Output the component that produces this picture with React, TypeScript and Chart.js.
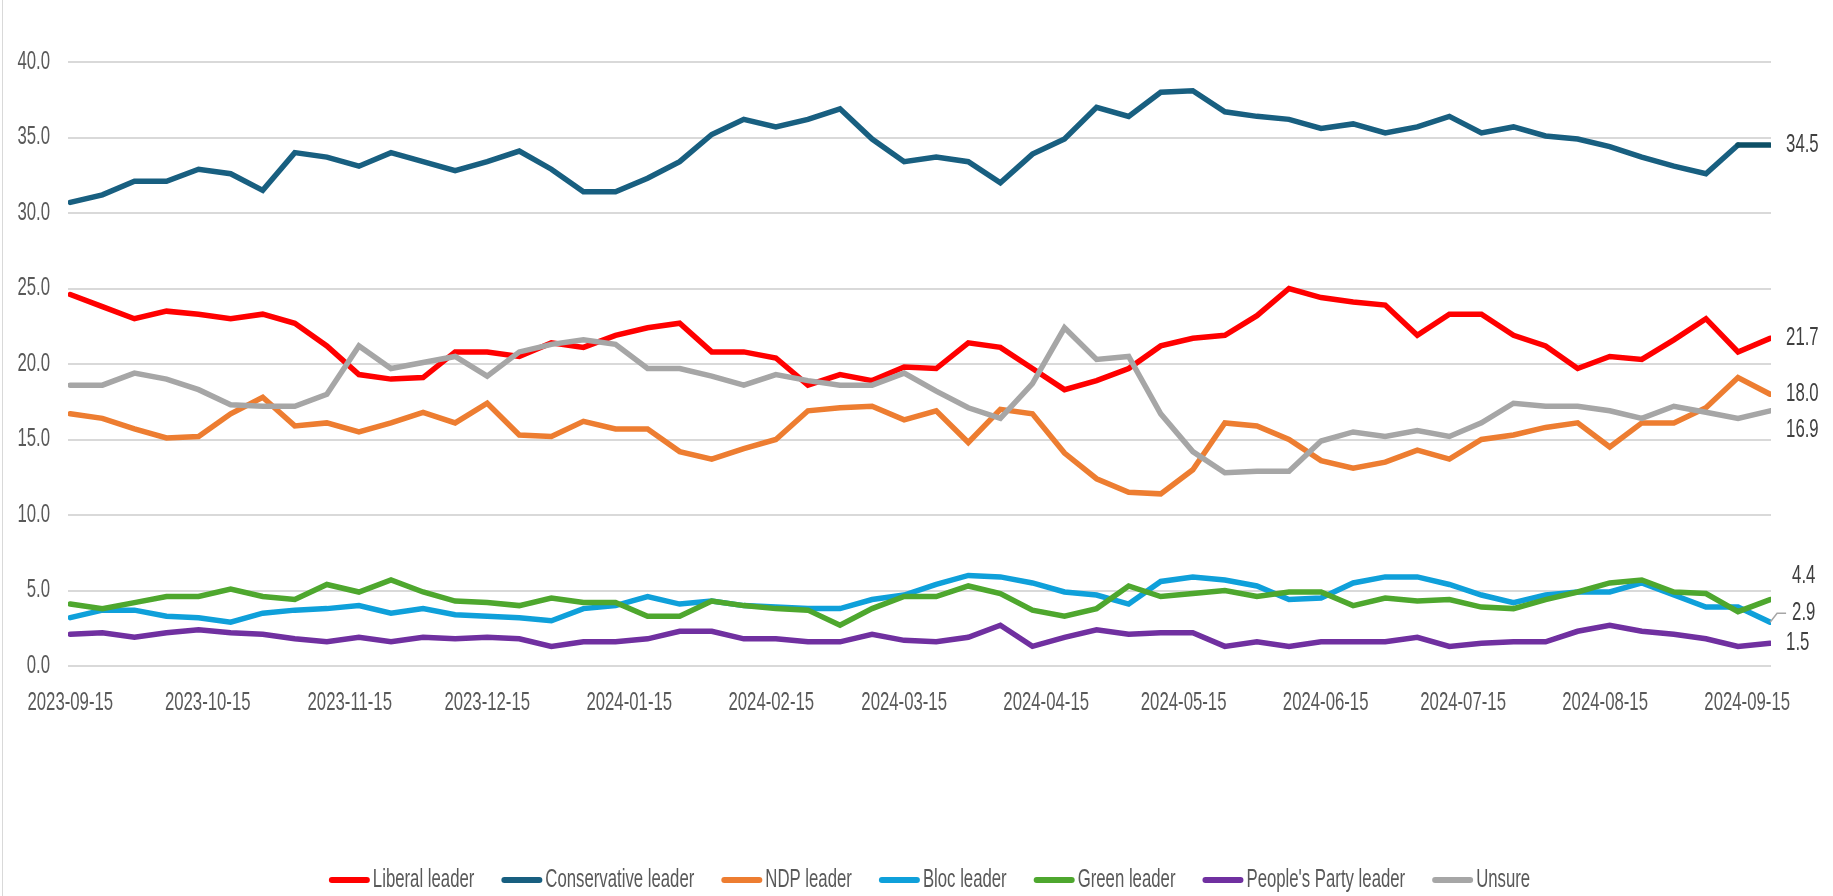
import React, { useEffect, useRef } from 'react';
import { Chart, registerables } from 'chart.js';

Chart.register(...registerables);

// Weekly survey dates (categories)
const dates: string[] = [
  '2023-09-15', '2023-09-22', '2023-09-29', '2023-10-06', '2023-10-13', '2023-10-20', '2023-10-27',
  '2023-11-03', '2023-11-10', '2023-11-17', '2023-11-24', '2023-12-01', '2023-12-08', '2023-12-15',
  '2023-12-22', '2023-12-29', '2024-01-05', '2024-01-12', '2024-01-19', '2024-01-26', '2024-02-02',
  '2024-02-09', '2024-02-16', '2024-02-23', '2024-03-01', '2024-03-08', '2024-03-15', '2024-03-22',
  '2024-03-29', '2024-04-05', '2024-04-12', '2024-04-19', '2024-04-26', '2024-05-03', '2024-05-10',
  '2024-05-17', '2024-05-24', '2024-05-31', '2024-06-07', '2024-06-14', '2024-06-21', '2024-06-28',
  '2024-07-05', '2024-07-12', '2024-07-19', '2024-07-26', '2024-08-02', '2024-08-09', '2024-08-16',
  '2024-08-23', '2024-08-30', '2024-09-06', '2024-09-13', '2024-09-20',
];

// Axis tick labels (monthly)
const tickLabels: string[] = [
  '2023-09-15', '2023-10-15', '2023-11-15', '2023-12-15', '2024-01-15', '2024-02-15', '2024-03-15',
  '2024-04-15', '2024-05-15', '2024-06-15', '2024-07-15', '2024-08-15', '2024-09-15',
];

const liberal: number[] = [
  24.6, 23.8, 23.0, 23.5, 23.3, 23.0, 23.3, 22.7, 21.2, 19.3, 19.0, 19.1, 20.8, 20.8, 20.5, 21.4, 21.1, 21.9,
  22.4, 22.7, 20.8, 20.8, 20.4, 18.6, 19.3, 18.9, 19.8, 19.7, 21.4, 21.1, 19.7, 18.3, 18.9, 19.7, 21.2, 21.7,
  21.9, 23.2, 25.0, 24.4, 24.1, 23.9, 21.9, 23.3, 23.3, 21.9, 21.2, 19.7, 20.5, 20.3, 21.6, 23.0, 20.8, 21.7,
];
const conservative: number[] = [
  30.7, 31.2, 32.1, 32.1, 32.9, 32.6, 31.5, 34.0, 33.7, 33.1, 34.0, 33.4, 32.8, 33.4, 34.1, 32.9, 31.4, 31.4,
  32.3, 33.4, 35.2, 36.2, 35.7, 36.2, 36.9, 34.9, 33.4, 33.7, 33.4, 32.0, 33.9, 34.9, 37.0, 36.4, 38.0, 38.1,
  36.7, 36.4, 36.2, 35.6, 35.9, 35.3, 35.7, 36.4, 35.3, 35.7, 35.1, 34.9, 34.4, 33.7, 33.1, 32.6, 34.5, 34.5,
];
const ndp: number[] = [
  16.7, 16.4, 15.7, 15.1, 15.2, 16.7, 17.8, 15.9, 16.1, 15.5, 16.1, 16.8, 16.1, 17.4, 15.3, 15.2, 16.2, 15.7,
  15.7, 14.2, 13.7, 14.4, 15.0, 16.9, 17.1, 17.2, 16.3, 16.9, 14.8, 17.0, 16.7, 14.1, 12.4, 11.5, 11.4, 13.0,
  16.1, 15.9, 15.0, 13.6, 13.1, 13.5, 14.3, 13.7, 15.0, 15.3, 15.8, 16.1, 14.5, 16.1, 16.1, 17.1, 19.1, 18.0,
];
const bloc: number[] = [
  3.2, 3.7, 3.7, 3.3, 3.2, 2.9, 3.5, 3.7, 3.8, 4.0, 3.5, 3.8, 3.4, 3.3, 3.2, 3.0, 3.8, 4.0,
  4.6, 4.1, 4.3, 4.0, 3.9, 3.8, 3.8, 4.4, 4.7, 5.4, 6.0, 5.9, 5.5, 4.9, 4.7, 4.1, 5.6, 5.9,
  5.7, 5.3, 4.4, 4.5, 5.5, 5.9, 5.9, 5.4, 4.7, 4.2, 4.7, 4.9, 4.9, 5.5, 4.7, 3.9, 3.9, 2.9,
];
const green: number[] = [
  4.1, 3.8, 4.2, 4.6, 4.6, 5.1, 4.6, 4.4, 5.4, 4.9, 5.7, 4.9, 4.3, 4.2, 4.0, 4.5, 4.2, 4.2,
  3.3, 3.3, 4.3, 4.0, 3.8, 3.7, 2.7, 3.8, 4.6, 4.6, 5.3, 4.8, 3.7, 3.3, 3.8, 5.3, 4.6, 4.8,
  5.0, 4.6, 4.9, 4.9, 4.0, 4.5, 4.3, 4.4, 3.9, 3.8, 4.4, 4.9, 5.5, 5.7, 4.9, 4.8, 3.6, 4.4,
];
const peoples: number[] = [
  2.1, 2.2, 1.9, 2.2, 2.4, 2.2, 2.1, 1.8, 1.6, 1.9, 1.6, 1.9, 1.8, 1.9, 1.8, 1.3, 1.6, 1.6,
  1.8, 2.3, 2.3, 1.8, 1.8, 1.6, 1.6, 2.1, 1.7, 1.6, 1.9, 2.7, 1.3, 1.9, 2.4, 2.1, 2.2, 2.2,
  1.3, 1.6, 1.3, 1.6, 1.6, 1.6, 1.9, 1.3, 1.5, 1.6, 1.6, 2.3, 2.7, 2.3, 2.1, 1.8, 1.3, 1.5,
];
const unsure: number[] = [
  18.6, 18.6, 19.4, 19.0, 18.3, 17.3, 17.2, 17.2, 18.0, 21.2, 19.7, 20.1, 20.5, 19.2, 20.8, 21.3, 21.6, 21.3,
  19.7, 19.7, 19.2, 18.6, 19.3, 18.9, 18.6, 18.6, 19.4, 18.2, 17.1, 16.4, 18.7, 22.4, 20.3, 20.5, 16.7, 14.2,
  12.8, 12.9, 12.9, 14.9, 15.5, 15.2, 15.6, 15.2, 16.1, 17.4, 17.2, 17.2, 16.9, 16.4, 17.2, 16.8, 16.4, 16.9,
];

const seriesNames: string[] = [
  'Liberal leader', 'Conservative leader', 'NDP leader', 'Bloc leader', 'Green leader',
  "People's Party leader", 'Unsure',
];
const seriesValues: number[][] = [liberal, conservative, ndp, bloc, green, peoples, unsure];
const seriesColors: string[] = ['#FF0000', '#185F80', '#ED7D31', '#0FA0DA', '#4EA72E', '#7030A0', '#A6A6A6'];

// end-label nudges (style only)
const endLabelShift: number[] = [0, 0, 0, -9, -23, 0, 19];
const endLabelIndent: number[] = [16, 16, 16, 22, 22, 16, 16];

const FONT = "'Liberation Sans', Arial, sans-serif";
const FONT_SIZE = 25;
const SQUEEZE = 0.67; // horizontal text compression seen in the reference

const dayNum = (s: string): number => {
  const [y, m, d] = s.split('-').map(Number);
  return Math.round((Date.UTC(y, m - 1, d) - Date.UTC(2023, 8, 15)) / 86400000);
};

const tickDays = tickLabels.map(dayNum);

function squeezedText(ctx: CanvasRenderingContext2D, text: string, x: number, y: number, align: string) {
  const w = ctx.measureText(text).width * SQUEEZE;
  const left = align === 'left' ? x : align === 'right' ? x - w : x - w / 2;
  ctx.save();
  ctx.translate(left, y);
  ctx.scale(SQUEEZE, 1);
  ctx.textAlign = 'left';
  ctx.textBaseline = 'middle';
  ctx.fillText(text, 0, 0);
  ctx.restore();
  return w;
}

const textPlugin = {
  id: 'squeezedText',
  afterDraw(chart: any) {
    const ctx: CanvasRenderingContext2D = chart.ctx;
    const xs = chart.scales.x;
    const ys = chart.scales.y;
    const area = chart.chartArea;
    ctx.save();
    ctx.font = `${FONT_SIZE}px ${FONT}`;
    // y tick labels
    ctx.fillStyle = '#595959';
    ys.ticks.forEach((t: any) => {
      squeezedText(ctx, Number(t.value).toFixed(1), area.left - 18, ys.getPixelForValue(t.value), 'right');
    });
    // x tick labels
    tickDays.forEach((d, i) => {
      squeezedText(ctx, tickLabels[i], xs.getPixelForValue(d), area.bottom + 37, 'center');
    });
    // legend
    const boxW = 41;
    const gapBoxText = 3;
    const gapItems = 27;
    const widths = seriesNames.map((s) => ctx.measureText(s).width * SQUEEZE);
    const total = widths.reduce((a, w) => a + boxW + gapBoxText + w, 0) + gapItems * (seriesNames.length - 1);
    let lx = (area.left + area.right) / 2 + 10 - total / 2;
    const ly = area.bottom + 214;
    seriesNames.forEach((name, i) => {
      ctx.strokeStyle = seriesColors[i];
      ctx.lineWidth = 6;
      ctx.lineCap = 'round';
      ctx.beginPath();
      ctx.moveTo(lx + 3, ly);
      ctx.lineTo(lx + boxW - 3, ly);
      ctx.stroke();
      ctx.fillStyle = '#595959';
      squeezedText(ctx, name, lx + boxW + gapBoxText, ly, 'left');
      lx += boxW + gapBoxText + widths[i] + gapItems;
    });
    // end labels
    ctx.fillStyle = '#404040';
    chart.data.datasets.forEach((ds: any, i: number) => {
      const pts = chart.getDatasetMeta(i).data;
      const p = pts[pts.length - 1];
      if (!p) return;
      const v = ds.data[ds.data.length - 1].y as number;
      const ty = p.y + endLabelShift[i];
      if (i === 3) {
        ctx.strokeStyle = '#A6A6A6';
        ctx.lineWidth = 1.5;
        ctx.lineCap = 'butt';
        ctx.beginPath();
        ctx.moveTo(p.x, p.y);
        ctx.lineTo(p.x + 7, ty);
        ctx.lineTo(p.x + 16, ty);
        ctx.stroke();
      }
      squeezedText(ctx, v.toFixed(1), p.x + endLabelIndent[i], ty, 'left');
    });
    ctx.restore();
  },
};

const borderPlugin = {
  id: 'outerBorder',
  beforeDraw(chart: any) {
    const ctx = chart.ctx;
    ctx.save();
    ctx.fillStyle = '#FFFFFF';
    ctx.fillRect(0, 0, chart.width, chart.height);
    ctx.strokeStyle = '#D9D9D9';
    ctx.lineWidth = 1;
    ctx.beginPath();
    ctx.moveTo(2.5, 0);
    ctx.lineTo(2.5, chart.height);
    ctx.stroke();
    ctx.restore();
  },
};

export default function App() {
  const canvasRef = useRef<HTMLCanvasElement | null>(null);

  useEffect(() => {
    if (!canvasRef.current) return;
    const n = dates.length;
    const datasets = seriesValues.map((vals, i) => ({
      label: seriesNames[i],
      data: vals.map((v, k) => ({ x: dayNum(dates[k]), y: v })),
      borderColor: seriesColors[i],
      backgroundColor: seriesColors[i],
      borderWidth: 5.5,
      pointRadius: 0,
      pointHoverRadius: 0,
      tension: 0,
      borderCapStyle: 'round' as const,
      order: seriesValues.length - 1 - i,
      segment:
        i === 1
          ? { borderColor: (c: any) => (c.p1DataIndex === n - 1 ? '#0D4F66' : undefined) }
          : undefined,
    }));

    const chart = new Chart(canvasRef.current, {
      type: 'line',
      data: { datasets },
      options: {
        animation: false,
        responsive: false,
        events: [],
        layout: { padding: { top: 62, right: 62, bottom: 230, left: 0 } },
        scales: {
          x: {
            type: 'linear',
            min: -0.5,
            max: dayNum(dates[n - 1]) + 0.2,
            grid: { display: false, drawTicks: false },
            border: { display: false },
            afterBuildTicks: (axis: any) => {
              axis.ticks = tickDays.map((v) => ({ value: v }));
            },
            afterFit: (s: any) => {
              s.height = 0;
            },
            ticks: { display: false, autoSkip: false, maxRotation: 0 },
          },
          y: {
            min: 0,
            max: 40,
            grid: { color: '#D9D9D9', lineWidth: 2, drawTicks: false },
            border: { display: false },
            afterFit: (s: any) => {
              s.width = 68;
            },
            ticks: { display: false, stepSize: 5 },
          },
        },
        plugins: {
          legend: { display: false },
          tooltip: { enabled: false },
        },
      },
      plugins: [borderPlugin, textPlugin],
    } as any);

    return () => chart.destroy();
  }, []);

  return (
    <div style={{ position: 'fixed', left: 0, top: 0, width: 1833, height: 896, background: '#fff' }}>
      <canvas ref={canvasRef} width={1833} height={896} style={{ width: 1833, height: 896, display: 'block' }} />
    </div>
  );
}
